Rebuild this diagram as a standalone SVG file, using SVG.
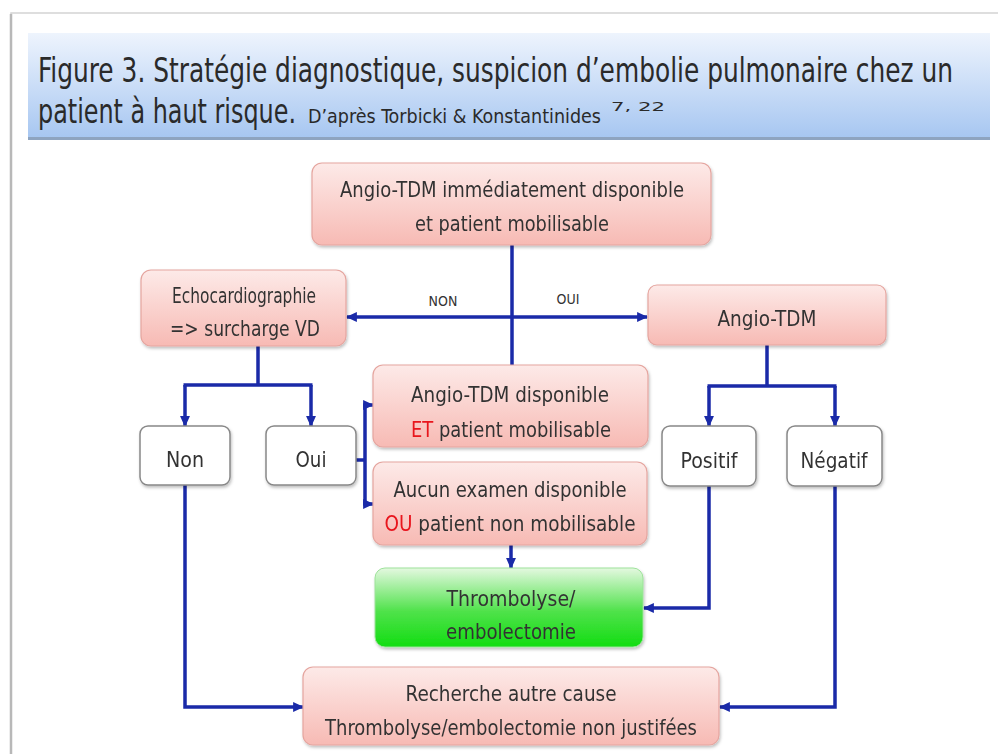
<svg xmlns="http://www.w3.org/2000/svg" width="998" height="754" viewBox="0 0 998 754">
<defs>
<linearGradient id="band" x1="0" y1="0" x2="0" y2="1">
<stop offset="0" stop-color="#eef4fd"/>
<stop offset="1" stop-color="#a6c6f1"/>
</linearGradient>
<linearGradient id="pink" x1="0" y1="0" x2="0" y2="1">
<stop offset="0" stop-color="#fdeae8"/>
<stop offset="1" stop-color="#f7bab4"/>
</linearGradient>
<linearGradient id="green" x1="0" y1="0" x2="0" y2="1">
<stop offset="0" stop-color="#e4f8e0"/>
<stop offset="0.55" stop-color="#4fe24a"/>
<stop offset="1" stop-color="#12dd12"/>
</linearGradient>
<filter id="sh" x="-10%" y="-10%" width="120%" height="130%">
<feDropShadow dx="1" dy="2" stdDeviation="1.5" flood-color="#000" flood-opacity="0.25"/>
</filter>
<marker id="ah" viewBox="0 0 10 10" refX="9" refY="5" markerWidth="11" markerHeight="11" markerUnits="userSpaceOnUse" orient="auto">
<path d="M0,0.5 L10,5 L0,9.5 z" fill="#1a2aa8"/>
</marker>
</defs>
<style>
.t{font-family:"DejaVu Sans Condensed","DejaVu Sans",sans-serif;font-stretch:condensed;fill:#333;text-anchor:middle;font-size:21.5px}
.ti{font-family:"DejaVu Sans Condensed","DejaVu Sans",sans-serif;font-stretch:condensed;fill:#2a2a2a}
.lb{font-family:"DejaVu Sans Condensed","DejaVu Sans",sans-serif;font-stretch:condensed;fill:#333;text-anchor:middle;font-size:14px}
.pk{fill:url(#pink);stroke:#e5a59f;stroke-width:1.2}
.wh{fill:#fff;stroke:#888;stroke-width:1.5}
.gr{fill:url(#green);stroke:#9de29a;stroke-width:1}
.c{fill:none;stroke:#1a2aa8;stroke-width:3.5;stroke-linejoin:miter}
.a{marker-end:url(#ah)}
.red{fill:#e8121c}
</style>
<rect width="998" height="754" fill="#fff"/>
<g id="page">
<rect x="11" y="13" width="1000" height="760" fill="#fff" stroke="#d4d4d4" stroke-width="1.5"/>
<line x1="11" y1="14" x2="11" y2="754" stroke="#b8b8b8" stroke-width="2.5"/>
</g>
<g id="title">
<rect x="28" y="33" width="962" height="106" fill="url(#band)"/>
<rect x="28" y="137" width="962" height="3" fill="#8ea4c0"/>
<text class="ti" transform="translate(38,82) scale(1,1.4)" x="0" y="0" font-size="23.5" textLength="915" lengthAdjust="spacingAndGlyphs">Figure 3. Stratégie diagnostique, suspicion d’embolie pulmonaire chez un</text>
<text class="ti" transform="translate(38,123) scale(1,1.4)" x="0" y="0" font-size="23.5" textLength="258" lengthAdjust="spacingAndGlyphs">patient à haut risque.</text>
<text class="ti" transform="translate(308,123) scale(1,1.22)" x="0" y="0" font-size="16.4" textLength="293" lengthAdjust="spacingAndGlyphs">D’après Torbicki &amp; Konstantinides</text>
<text class="ti" x="611" y="111" font-size="13" textLength="54" lengthAdjust="spacingAndGlyphs">7, 22</text>
</g>
<g id="connectors">
<path class="c" d="M512,245 V365"/>
<path class="c a" d="M512,317 H347"/>
<path class="c a" d="M512,317 H647"/>
<path class="c" d="M258,346 V385 M183.5,385 H312.5"/>
<path class="c a" d="M185,385 V426"/>
<path class="c a" d="M311,385 V426"/>
<path class="c" d="M356,460 H365 M365,403.5 V505.5"/>
<path class="c a" d="M363.5,405 H373"/>
<path class="c a" d="M363.5,504 H373"/>
<path class="c a" d="M511,545 V568"/>
<path class="c" d="M767,345 V386 M707.5,386 H836.5"/>
<path class="c a" d="M709,386 V426"/>
<path class="c a" d="M835,386 V426"/>
<path class="c a" d="M709,486 V608 H644"/>
<path class="c a" d="M835,486 V707 H720"/>
<path class="c a" d="M185,485 V707 H303"/>
<text class="lb" x="443" y="306">NON</text>
<text class="lb" x="568" y="304">OUI</text>
</g>
<g id="n-top" filter="url(#sh)">
<rect class="pk" x="312" y="163" width="399" height="82" rx="10"/>
<text class="t" x="512" y="197" textLength="344" lengthAdjust="spacingAndGlyphs">Angio-TDM immédiatement disponible</text>
<text class="t" x="512" y="231" textLength="194" lengthAdjust="spacingAndGlyphs">et patient mobilisable</text>
</g>
<g id="n-echo" filter="url(#sh)">
<rect class="pk" x="141" y="270" width="205" height="76" rx="10"/>
<text class="t" x="244" y="303" textLength="144" lengthAdjust="spacingAndGlyphs">Echocardiographie</text>
<text class="t" x="245" y="336" textLength="150" lengthAdjust="spacingAndGlyphs">=&gt; surcharge VD</text>
</g>
<g id="n-angio" filter="url(#sh)">
<rect class="pk" x="648" y="285" width="238" height="60" rx="9"/>
<text class="t" x="767" y="326" textLength="99" lengthAdjust="spacingAndGlyphs">Angio-TDM</text>
</g>
<g id="n-non" filter="url(#sh)">
<rect class="wh" x="140" y="426" width="90" height="59" rx="8"/>
<text class="t" x="185" y="467" textLength="38" lengthAdjust="spacingAndGlyphs">Non</text>
</g>
<g id="n-oui" filter="url(#sh)">
<rect class="wh" x="266" y="426" width="90" height="59" rx="8"/>
<text class="t" x="311" y="467" textLength="31" lengthAdjust="spacingAndGlyphs">Oui</text>
</g>
<g id="n-dispo" filter="url(#sh)">
<rect class="pk" x="373" y="365" width="275" height="82" rx="10"/>
<text class="t" x="510" y="402" textLength="198" lengthAdjust="spacingAndGlyphs">Angio-TDM disponible</text>
<text class="t" x="511" y="437" textLength="200" lengthAdjust="spacingAndGlyphs"><tspan class="red">ET</tspan> patient mobilisable</text>
</g>
<g id="n-aucun" filter="url(#sh)">
<rect class="pk" x="373" y="462" width="274" height="83" rx="10"/>
<text class="t" x="510" y="497" textLength="233" lengthAdjust="spacingAndGlyphs">Aucun examen disponible</text>
<text class="t" x="510" y="531" textLength="251" lengthAdjust="spacingAndGlyphs"><tspan class="red">OU</tspan> patient non mobilisable</text>
</g>
<g id="n-positif" filter="url(#sh)">
<rect class="wh" x="662" y="426" width="94" height="60" rx="8"/>
<text class="t" x="709" y="468" textLength="57" lengthAdjust="spacingAndGlyphs">Positif</text>
</g>
<g id="n-negatif" filter="url(#sh)">
<rect class="wh" x="787" y="426" width="95" height="60" rx="8"/>
<text class="t" x="834" y="468" textLength="67" lengthAdjust="spacingAndGlyphs">Négatif</text>
</g>
<g id="n-thrombo" filter="url(#sh)">
<rect class="gr" x="375" y="568" width="268" height="79" rx="10"/>
<text class="t" x="511" y="606" textLength="129" lengthAdjust="spacingAndGlyphs">Thrombolyse/</text>
<text class="t" x="511" y="639" textLength="130" lengthAdjust="spacingAndGlyphs">embolectomie</text>
</g>
<g id="n-recherche" filter="url(#sh)">
<rect class="pk" x="303" y="667" width="416" height="78" rx="10"/>
<text class="t" x="511" y="701" textLength="211" lengthAdjust="spacingAndGlyphs">Recherche autre cause</text>
<text class="t" x="511" y="735" textLength="372" lengthAdjust="spacingAndGlyphs">Thrombolyse/embolectomie non justifées</text>
</g>
</svg>
